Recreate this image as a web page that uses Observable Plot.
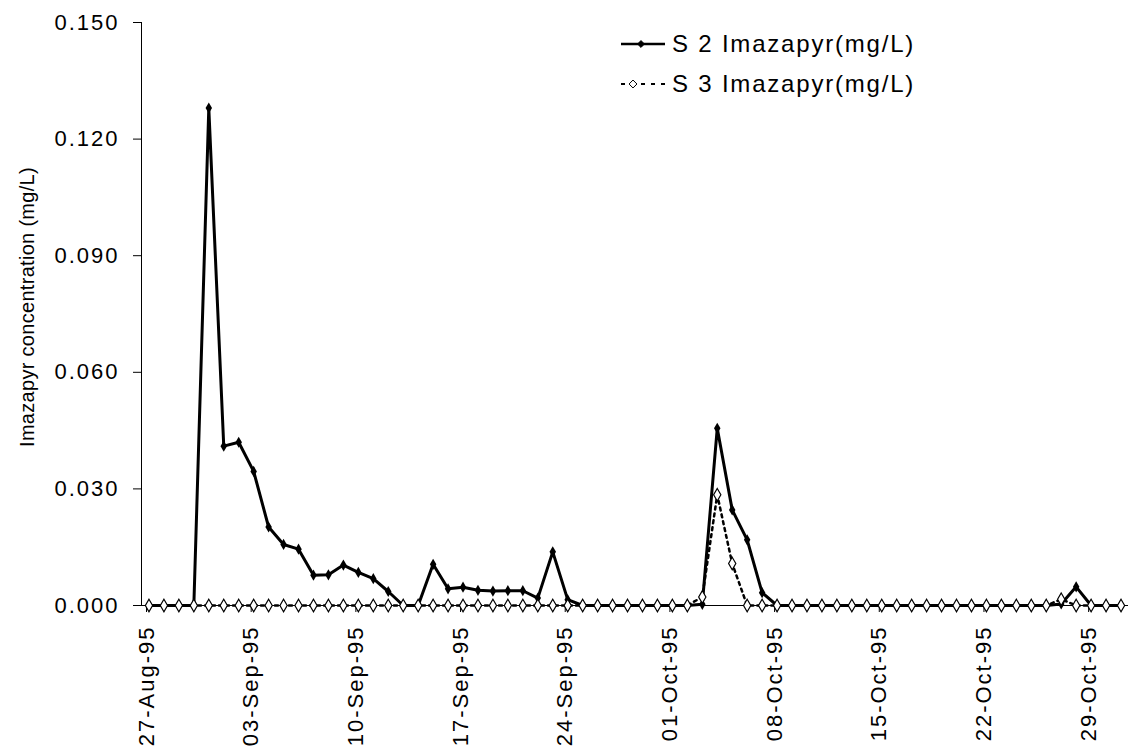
<!DOCTYPE html>
<html>
<head>
<meta charset="utf-8">
<script src="https://cdn.jsdelivr.net/npm/d3@7"></script>
<script src="https://cdn.jsdelivr.net/npm/@observablehq/plot@0.6"></script>
<style>
  body { margin: 0; background: #fff; }
  #wrap { position: relative; width: 1135px; height: 755px; }
  #legend { position: absolute; left: 0; top: 0; pointer-events: none; }
  svg text { font-family: "Liberation Sans", Arial, sans-serif; }
</style>
</head>
<body>
<div id="wrap"></div>
<script>
// ---- data (daily samples, 27-Aug-95 .. 31-Oct-95) ----
const firstDay = "1995-08-27";
const lastDayExclusive = "1995-11-01";
const axisEnd = "1995-11-01";

const tickLabels = ["27-Aug-95", "03-Sep-95", "10-Sep-95", "17-Sep-95", "24-Sep-95",
  "01-Oct-95", "08-Oct-95", "15-Oct-95", "22-Oct-95", "29-Oct-95"];

const yTicks = [0, 0.03, 0.06, 0.09, 0.12, 0.15];

const seriesNames = ["S 2 Imazapyr(mg/L)", "S 3 Imazapyr(mg/L)"];
const yLabel = "Imazapyr concentration (mg/L)";

// S 2 (filled markers, solid line)
const s2 = [
  // Aug 27-31
  0, 0, 0, 0, 0.128,
  // Sep 1-10
  0.041, 0.042, 0.0345, 0.0202, 0.0157, 0.0145, 0.0078, 0.0079, 0.0104, 0.0085,
  // Sep 11-20
  0.0069, 0.0036, 0, 0, 0.0106, 0.0043, 0.0047, 0.0039, 0.0037, 0.0038,
  // Sep 21-30
  0.0038, 0.0019, 0.0138, 0.0015, 0, 0, 0, 0, 0, 0,
  // Oct 1-10
  0, 0, 0.0003, 0.0456, 0.0246, 0.0169, 0.0033, 0, 0, 0,
  // Oct 11-20
  0, 0, 0, 0, 0, 0, 0, 0, 0, 0,
  // Oct 21-31
  0, 0, 0, 0, 0, 0, 0.0004, 0.0048, 0, 0, 0
];

// S 3 (open markers, dashed line)
const s3 = [
  // Aug 27-31
  0, 0, 0, 0, 0,
  // Sep 1-10
  0, 0, 0, 0, 0, 0, 0, 0, 0, 0,
  // Sep 11-20
  0, 0, 0, 0, 0, 0, 0, 0, 0, 0,
  // Sep 21-30
  0, 0, 0, 0, 0, 0, 0, 0, 0, 0,
  // Oct 1-10
  0, 0, 0.0022, 0.0285, 0.0108, 0, 0, 0, 0, 0,
  // Oct 11-20
  0, 0, 0, 0, 0, 0, 0, 0, 0, 0,
  // Oct 21-31
  0, 0, 0, 0, 0, 0, 0.0016, 0, 0, 0, 0
];

// ---- build ----
const parseISO = d3.utcParse("%Y-%m-%d");
const parseTick = d3.utcParse("%d-%b-%y");
const days = d3.utcDay.range(parseISO(firstDay), parseISO(lastDayExclusive));
const rows = days.map((d, i) => ({date: d3.utcHour.offset(d, 12), s2: s2[i], s3: s3[i]}));
const tickDates = tickLabels.map(parseTick);
const x0 = parseISO(firstDay), x1 = parseISO(axisEnd);

const chart = Plot.plot({
  width: 1135,
  height: 755,
  marginLeft: 141,
  marginRight: 7,
  marginTop: 22,
  marginBottom: 150,
  style: {fontFamily: "'Liberation Sans', Arial, sans-serif", fontSize: "22px", letterSpacing: "2px", color: "#000", background: "#fff"},
  x: {type: "utc", domain: [x0, x1]},
  y: {domain: [0, 0.15]},
  marks: [
    Plot.axisY({ticks: yTicks, tickFormat: d3.format(".3f"), tickSize: 8, tickPadding: 14, label: null, fontSize: 22}),
    Plot.axisX({ticks: tickDates, tickFormat: d3.utcFormat("%d-%b-%y"), tickRotate: -90, tickSize: 7, tickPadding: 13, label: null, fontSize: 22, dx: 5}),
    Plot.ruleY([0], {stroke: "#000", strokeWidth: 1}),
    Plot.ruleX([x0], {stroke: "#000", strokeWidth: 1}),
    Plot.text([yLabel], {text: d => d, frameAnchor: "left", textAnchor: "middle", lineAnchor: "middle", rotate: -90, dx: -114, dy: -7, fontSize: 20}),
    Plot.line(rows, {x: "date", y: "s2", stroke: "#000", strokeWidth: 3}),
    Plot.dot(rows, {x: "date", y: "s2", symbol: "diamond", r: 3.4, fill: "#000"}),
    Plot.line(rows, {x: "date", y: "s3", stroke: "#000", strokeWidth: 2.5, strokeDasharray: "3,4"}),
    Plot.dot(rows, {x: "date", y: "s3", symbol: "diamond", r: 3.8, fill: "#fff", stroke: "#000", strokeWidth: 1.2})
  ]
});
const wrap = document.getElementById("wrap");
wrap.appendChild(chart);
// y-axis title without extra letter spacing
chart.querySelectorAll("text").forEach(t => {
  if (t.textContent === yLabel) t.setAttribute("letter-spacing", "0.3px");
});

// ---- legend (overlay) ----
const ns = "http://www.w3.org/2000/svg";
const leg = document.createElementNS(ns, "svg");
leg.setAttribute("id", "legend");
leg.setAttribute("width", 1135);
leg.setAttribute("height", 120);
const items = [
  {name: seriesNames[0], y: 44, dash: null, fill: "#000", mx: 641, w: 2.5},
  {name: seriesNames[1], y: 84, dash: "4,6", fill: "#fff", mx: 633, w: 2}
];
for (const it of items) {
  const l = document.createElementNS(ns, "line");
  l.setAttribute("x1", 621); l.setAttribute("x2", 665);
  l.setAttribute("y1", it.y); l.setAttribute("y2", it.y);
  l.setAttribute("stroke", "#000"); l.setAttribute("stroke-width", it.w);
  if (it.dash) l.setAttribute("stroke-dasharray", it.dash);
  leg.appendChild(l);
  const p = document.createElementNS(ns, "path");
  p.setAttribute("d", d3.symbol(d3.symbolDiamond2, it.fill === "#000" ? 30 : 40)());
  p.setAttribute("transform", `translate(${it.mx},${it.y})`);
  p.setAttribute("fill", it.fill); p.setAttribute("stroke", "#000"); p.setAttribute("stroke-width", 1);
  leg.appendChild(p);
  const t = document.createElementNS(ns, "text");
  t.setAttribute("x", 672); t.setAttribute("y", it.y);
  t.setAttribute("dy", "0.35em");
  t.setAttribute("font-size", 24);
  t.setAttribute("letter-spacing", "1.8px");
  t.setAttribute("fill", "#000");
  t.textContent = it.name;
  leg.appendChild(t);
}
wrap.appendChild(leg);
</script>
</body>
</html>
